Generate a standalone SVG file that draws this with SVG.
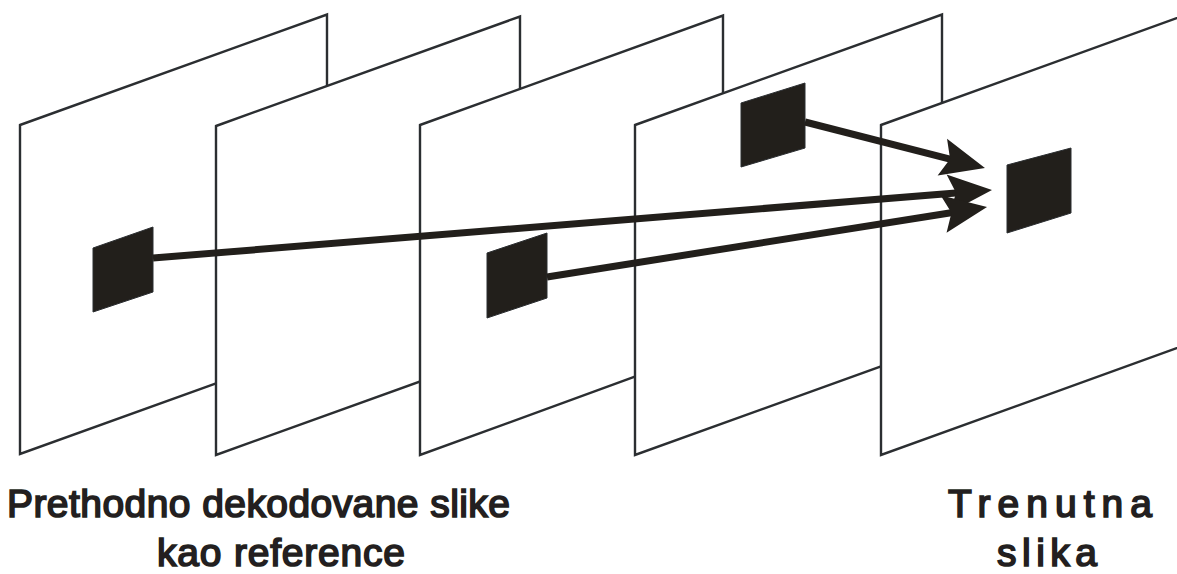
<svg xmlns="http://www.w3.org/2000/svg" width="1177" height="574" viewBox="0 0 1177 574">
  <defs>
    <style>
      .frame { fill: #ffffff; stroke: #2b2e31; stroke-width: 2.4; stroke-linejoin: miter; }
      .block { fill: #221f1b; stroke: #2b2e31; stroke-width: 1; }
      .arrow { fill: none; stroke: #221f1b; stroke-width: 7; stroke-linecap: butt; }
      .label { font-family: "Liberation Sans", Arial, sans-serif; font-size: 39px; fill: #231f20; stroke: #231f20; stroke-width: 1.7; }
    </style>
    <marker id="head" markerUnits="userSpaceOnUse" markerWidth="60" markerHeight="50" viewBox="-20 -25 60 50" refX="0" refY="0" orient="auto">
      <path d="M30,0 L-14,-19 L-6,0 L-14,19 Z" fill="#221f1b"/>
    </marker>
  </defs>
  <rect width="1177" height="574" fill="#ffffff"/>

  <g id="frame1">
    <polygon class="frame" points="20,125 327,14.5 327,343.5 20,454"/>
    <polygon id="block-a" class="block" points="93,248 153,227 153,292 93,312"/>
  </g>
  <g id="frame2">
    <polygon class="frame" points="216,126 520,16.5 520,345.5 216,455"/>
  </g>
  <g id="frame3">
    <polygon class="frame" points="420,125 723,15.5 723,344.5 420,455"/>
    <polygon id="block-b" class="block" points="487,253 547,233 547,298 487,318"/>
  </g>
  <g id="frame4">
    <polygon class="frame" points="635,125 942,14.5 942,344.5 635,455"/>
    <polygon id="block-c" class="block" points="741,103 805,83 805,148 741,167"/>
  </g>
  <g id="frame5">
    <polygon class="frame" points="881,125 1260,-12 1260,318 881,455"/>
    <polygon id="block-d" class="block" points="1007,165 1071,148 1071,213 1007,233"/>
  </g>

  <g id="connectors">
    <line class="arrow" x1="153" y1="258" x2="962.1" y2="192.4" marker-end="url(#head)"/>
    <line class="arrow" x1="547" y1="277" x2="957.4" y2="211.7" marker-end="url(#head)"/>
    <line class="arrow" x1="805" y1="122" x2="955.9" y2="160.6" marker-end="url(#head)"/>
  </g>

  <g id="labels">
    <text class="label" x="7" y="517" textLength="503" lengthAdjust="spacing">Prethodno dekodovane slike</text>
    <text class="label" x="157" y="566" textLength="248" lengthAdjust="spacing">kao reference</text>
    <text class="label" x="948" y="517" textLength="204" lengthAdjust="spacing">Trenutna</text>
    <text class="label" x="997" y="566" textLength="100" lengthAdjust="spacing">slika</text>
  </g>
</svg>
